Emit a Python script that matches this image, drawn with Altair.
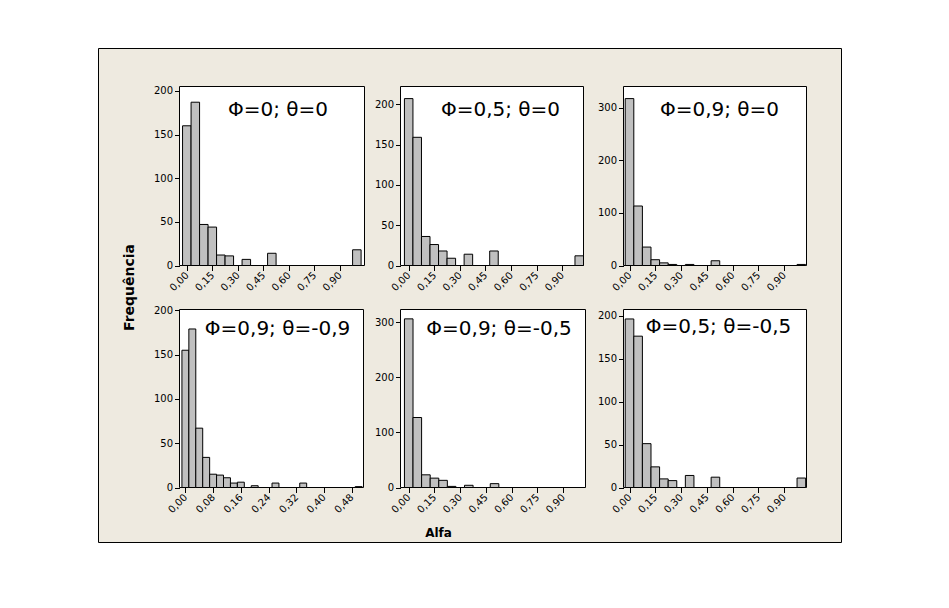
import altair as alt
import pandas as pd

# ---------------- data ----------------
centers_a = [0.00, 0.05, 0.10, 0.15, 0.20, 0.25, 0.30, 0.35, 0.40, 0.45, 0.50,
             0.55, 0.60, 0.65, 0.70, 0.75, 0.80, 0.85, 0.90, 0.95, 1.00]
centers_b = [0.00, 0.02, 0.04, 0.06, 0.08, 0.10, 0.12, 0.14, 0.16, 0.18, 0.20,
             0.22, 0.24, 0.26, 0.28, 0.30, 0.32, 0.34, 0.36, 0.38, 0.40,
             0.42, 0.44, 0.46, 0.48, 0.50]

counts_p1 = [160, 187, 47, 44, 12, 11, 0, 7, 0, 0, 14, 0, 0, 0, 0, 0, 0, 0, 0, 0, 18]
counts_p2 = [207, 159, 36, 26, 18, 9, 0, 14, 0, 0, 18, 0, 0, 0, 0, 0, 0, 0, 0, 0, 12]
counts_p3 = [317, 113, 35, 11, 5, 2, 0, 2, 0, 0, 9, 0, 0, 0, 0, 0, 0, 0, 0, 0, 2]
counts_p4 = [155, 179, 67, 34, 15, 14, 11, 5, 6, 0, 2, 0, 0, 5, 0, 0, 0, 5, 0, 0, 0,
             0, 0, 0, 0, 1]
counts_p5 = [306, 127, 23, 17, 13, 2, 0, 4, 0, 0, 7, 0, 0, 0, 0, 0, 0, 0, 0, 0, 0]
counts_p6 = [196, 176, 51, 24, 10, 8, 0, 14, 0, 0, 12, 0, 0, 0, 0, 0, 0, 0, 0, 0, 11]

titles = ["Φ=0; θ=0", "Φ=0,5; θ=0", "Φ=0,9; θ=0",
          "Φ=0,9; θ=-0,9", "Φ=0,9; θ=-0,5", "Φ=0,5; θ=-0,5"]

xticks_a = [0.00, 0.15, 0.30, 0.45, 0.60, 0.75, 0.90]
xticks_b = [0.00, 0.08, 0.16, 0.24, 0.32, 0.40, 0.48]
yticks_200 = [0, 50, 100, 150, 200]
yticks_300 = [0, 100, 200, 300]

# ---------------- layout (view = beige frame) ----------------
W, H = 743, 494
BEIGE = "#EEEAE0"
LABEL_FONT = "DejaVu Sans"
TITLE_FONT = "DejaVu Sans"

panels = [
    dict(title=titles[0], centers=centers_a, counts=counts_p1, bw=0.05,
         xdom=[-0.043, 1.045], xr=[81.5, 266.5], ydom=[0, 205], yr=[217.5, 38.5],
         xticks=xticks_a, yticks=yticks_200, tpos=(179.5, 61)),
    dict(title=titles[1], centers=centers_a, counts=counts_p2, bw=0.05,
         xdom=[-0.048, 1.025], xr=[302.5, 485.5], ydom=[0, 222], yr=[217.5, 38.5],
         xticks=xticks_a, yticks=yticks_200, tpos=(402, 61)),
    dict(title=titles[2], centers=centers_a, counts=counts_p3, bw=0.05,
         xdom=[-0.035, 1.03], xr=[525.5, 708.5], ydom=[0, 340], yr=[217.5, 38.5],
         xticks=xticks_a, yticks=yticks_300, tpos=(621, 61)),
    dict(title=titles[3], centers=centers_b, counts=counts_p4, bw=0.02,
         xdom=[-0.017, 0.514], xr=[81.5, 265.5], ydom=[0, 201], yr=[439.5, 261.5],
         xticks=xticks_b, yticks=yticks_200, tpos=(179, 280)),
    dict(title=titles[4], centers=centers_a, counts=counts_p5, bw=0.05,
         xdom=[-0.048, 1.03], xr=[302.5, 487.5], ydom=[0, 323], yr=[439.5, 261.5],
         xticks=xticks_a, yticks=yticks_300, tpos=(400.5, 280)),
    dict(title=titles[5], centers=centers_a, counts=counts_p6, bw=0.05,
         xdom=[-0.035, 1.03], xr=[525.5, 708.5], ydom=[0, 207], yr=[439.5, 261.5],
         xticks=xticks_a, yticks=yticks_200, tpos=(620, 278)),
]

common_axis = dict(
    grid=False, domain=False, tickColor="black", tickSize=5, tickWidth=1,
    labelFont=LABEL_FONT, labelFontSize=10, labelColor="black",
    labelOverlap=False, labelFlush=False, zindex=1,
)
panel_title_style = dict(
    titleFont=TITLE_FONT, titleFontSize=20, titleFontWeight="normal",
    titleColor="black", titleAlign="center", titleBaseline="middle", titleAngle=0,
)
big_title_style = dict(
    titleFont=TITLE_FONT, titleFontWeight="bold", titleColor="black",
    titleAlign="center", titleBaseline="middle",
)

label_expr = "replace(format(datum.value, '.2f'), '.', ',')"

layers = []
for i, p in enumerate(panels):
    df = pd.DataFrame({"c": p["centers"], "n": p["counts"]})
    df = df[df["n"] > 0].copy()
    df["x0"] = df["c"] - p["bw"] / 2
    df["x1"] = df["c"] + p["bw"] / 2
    df["z"] = 0

    box_df = pd.DataFrame({"bx0": [p["xdom"][0]], "bx1": [p["xdom"][1]],
                           "by0": [p["ydom"][0]], "by1": [p["ydom"][1]]})

    def xs():
        return alt.Scale(domain=p["xdom"], range=p["xr"], nice=False, zero=False)

    def ys():
        return alt.Scale(domain=p["ydom"], range=p["yr"], nice=False, zero=False)

    left_x = p["xr"][0]
    bottom_y = p["yr"][0]
    tx, ty = p["tpos"]

    xkw = dict(common_axis, orient="bottom", offset=bottom_y - H, values=p["xticks"],
               labelExpr=label_expr, labelAngle=-45, labelAlign="right",
               labelBaseline="middle", labelPadding=3)
    ykw = dict(common_axis, orient="left", offset=-left_x, values=p["yticks"],
               format="d", labelPadding=2)

    if i == 3:
        xaxis = alt.Axis(title=p["title"], titleX=tx, titleY=ty - bottom_y,
                         **panel_title_style, **xkw)
        yaxis = alt.Axis(title="Frequência", titleX=31 - left_x, titleY=239,
                         titleAngle=-90, titleFontSize=14, **big_title_style, **ykw)
    elif i == 4:
        xaxis = alt.Axis(title="Alfa", titleX=340, titleY=484 - bottom_y,
                         titleAngle=0, titleFontSize=12, **big_title_style, **xkw)
        yaxis = alt.Axis(title=p["title"], titleX=tx - left_x, titleY=ty,
                         **panel_title_style, **ykw)
    else:
        xaxis = alt.Axis(title=None, **xkw)
        yaxis = alt.Axis(title=p["title"], titleX=tx - left_x, titleY=ty,
                         **panel_title_style, **ykw)

    box = alt.Chart(box_df).mark_rect(fill="white", stroke="black", strokeWidth=1).encode(
        x=alt.X("bx0:Q", scale=xs(), axis=None),
        x2="bx1:Q",
        y=alt.Y("by0:Q", scale=ys(), axis=None),
        y2="by1:Q",
    )
    bars = alt.Chart(df).mark_rect(fill="#C0C0C0", stroke="black", strokeWidth=1).encode(
        x=alt.X("x0:Q", scale=xs(), axis=xaxis),
        x2="x1:Q",
        y=alt.Y("n:Q", scale=ys(), axis=yaxis),
        y2="z:Q",
    )
    layers.append(box)
    layers.append(bars)

chart = (
    alt.layer(*layers)
    .resolve_scale(x="independent", y="independent")
    .resolve_axis(x="independent", y="independent")
    .properties(
        width=W, height=H,
        padding={"left": 90, "top": 40, "right": 100, "bottom": 50},
        autosize=alt.AutoSizeParams(type="none"),
        background="white",
    )
    .configure_view(fill=BEIGE, stroke="black", strokeWidth=1)
)

chart.save("out.html", embed_options={"renderer": "svg", "actions": False})
